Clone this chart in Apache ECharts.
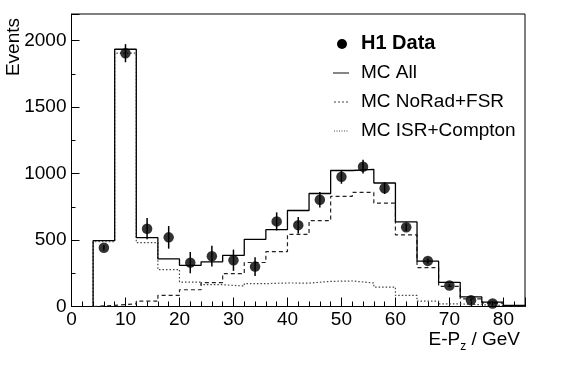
<!DOCTYPE html>
<html>
<head>
<meta charset="utf-8">
<script src="https://cdn.jsdelivr.net/npm/echarts@6/dist/echarts.min.js"></script>
<style>html,body{margin:0;padding:0;background:#fff;}#c{width:567px;height:369px;}</style>
</head>
<body>
<div id="c"></div>
<script>
// Bin edges (GeV) and bin contents
const binEdges = [4, 8, 12, 16, 20, 24, 28, 32, 36, 40, 44, 48, 52, 56, 60, 64, 68, 72, 76, 80, 84];
const mcAll        = [495, 1935, 518, 358, 310, 336, 385, 505, 578, 722, 850, 1023, 1032, 929, 636, 341, 182, 72, 33, 8];
const mcNoRadFSR   = [8, 20, 40, 83, 126, 179, 247, 331, 412, 543, 646, 828, 858, 778, 538, 293, 152, 58, 25, 5];
const mcISRCompton = [487, 1905, 480, 278, 184, 164, 154, 172, 177, 176, 189, 192, 177, 146, 83, 40, 20, 13, 8, 3];
// H1 data points
const dataX   = [6, 10, 14, 18, 22, 26, 30, 34, 38, 42, 46, 50, 54, 58, 62, 66, 70, 74, 78];
const h1Data  = [442, 1905, 585, 520, 330, 378, 348, 300, 640, 612, 803, 975, 1052, 890, 596, 343, 158, 47, 22];
const h1Err   = [20, 68, 80, 85, 80, 78, 80, 70, 68, 62, 58, 52, 52, 44, 28, 20, 12, 8, 5];
// Tick labels
const xTicks = [0, 10, 20, 30, 40, 50, 60, 70, 80];
const yTicks = [0, 500, 1000, 1500, 2000];

const FONT = '"Liberation Sans", Arial, Helvetica, sans-serif';

function stepData(vals) {
  const d = [[binEdges[0], 0]];
  vals.forEach((v, i) => d.push([binEdges[i], v]));
  d.push([binEdges[vals.length], vals[vals.length - 1]]);
  return d;
}

const chart = echarts.init(document.getElementById('c'), null, {renderer: 'canvas'});

const axisCommon = {
  splitLine: {show: false},
  axisLine: {show: true, lineStyle: {color: '#000', width: 1}},
};

const option = {
  animation: false,
  backgroundColor: '#fff',
  grid: {left: 71.5, right: 42, top: 14, bottom: 62.5, show: true, borderColor: '#000', borderWidth: 1, backgroundColor: 'transparent'},
  xAxis: [
    Object.assign({}, axisCommon, {
      type: 'value', min: 0, max: 84, interval: 10, position: 'bottom',
      axisTick: {inside: true, length: 9, lineStyle: {color: '#000'}},
      axisLabel: {formatter: v => xTicks.includes(v) ? String(v) : '', fontSize: 19, color: '#000', margin: 4, fontFamily: FONT}
    }),
    {
      type: 'value', min: 0, max: 84, interval: 2, position: 'bottom',
      splitLine: {show: false}, axisLine: {show: false},
      axisTick: {inside: true, length: 5, lineStyle: {color: '#000'}},
      axisLabel: {show: false}
    }
  ],
  yAxis: [
    Object.assign({}, axisCommon, {
      type: 'value', min: 0, max: 2200, interval: 500, position: 'left',
      axisTick: {inside: true, length: 8, lineStyle: {color: '#000'}},
      axisLabel: {formatter: v => yTicks.includes(v) ? String(v) : '', fontSize: 19, color: '#000', margin: 5, fontFamily: FONT}
    }),
    {
      type: 'value', min: 0, max: 2200, interval: 250, position: 'left',
      splitLine: {show: false}, axisLine: {show: false},
      axisTick: {inside: true, length: 4, lineStyle: {color: '#000'}},
      axisLabel: {show: false}
    }
  ],
  series: [
    {
      type: 'line', name: 'MC ISR+Compton', step: 'end', symbol: 'none', data: stepData(mcISRCompton),
      lineStyle: {color: '#444', width: 1.2, type: [1.5, 2]}, z: 2
    },
    {
      type: 'line', name: 'MC NoRad+FSR', step: 'end', symbol: 'none', data: stepData(mcNoRadFSR),
      lineStyle: {color: '#222', width: 1.2, type: [4, 3]}, z: 3
    },
    {
      type: 'line', name: 'MC All', step: 'end', symbol: 'none', data: stepData(mcAll),
      lineStyle: {color: '#000', width: 1.3}, z: 4
    },
    {
      type: 'custom', name: 'errors', z: 5,
      data: dataX.map((x, i) => [x, h1Data[i], h1Err[i]]),
      renderItem: function (params, api) {
        const x = api.value(0), y = api.value(1), e = api.value(2);
        const p1 = api.coord([x, y + e]);
        const p2 = api.coord([x, y - e]);
        return {type: 'line', shape: {x1: p1[0], y1: p1[1], x2: p2[0], y2: p2[1]}, style: {stroke: '#000', lineWidth: 1.5}};
      }
    },
    {
      type: 'scatter', name: 'H1 Data', symbol: 'circle', symbolSize: 10.5, z: 6,
      data: dataX.map((x, i) => [x, h1Data[i]]),
      itemStyle: {color: '#000'}
    }
  ],
  graphic: [
    {type: 'text', left: 4, top: 18, rotation: Math.PI / 2, style: {text: 'Events', fontSize: 19, fontFamily: FONT, fill: '#000'}},
    {type: 'text', right: 47, top: 330, style: {
      text: '{n|E-P}{s|z}{n| / GeV}',
      rich: {n: {fontSize: 19, fontFamily: FONT, fill: '#000'}, s: {fontSize: 12, fontFamily: FONT, fill: '#000', padding: [14, 0, 0, 0]}}
    }},
    // legend
    {type: 'circle', shape: {cx: 342, cy: 44, r: 5}, style: {fill: '#000'}},
    {type: 'text', left: 361, top: 33, style: {text: 'H1 Data', fontSize: 20, fontWeight: 'bold', fontFamily: FONT, fill: '#000'}},
    {type: 'line', shape: {x1: 333, y1: 73, x2: 349, y2: 73}, style: {stroke: '#444', lineWidth: 1.3}},
    {type: 'text', left: 361, top: 63, style: {text: 'MC All', fontSize: 19, fontFamily: FONT, fill: '#000'}},
    {type: 'line', shape: {x1: 334, y1: 102, x2: 349, y2: 102}, style: {stroke: '#444', lineWidth: 1, lineDash: [2, 2]}},
    {type: 'text', left: 361, top: 92, style: {text: 'MC NoRad+FSR', fontSize: 19, fontFamily: FONT, fill: '#000'}},
    {type: 'line', shape: {x1: 334, y1: 131, x2: 348, y2: 131}, style: {stroke: '#444', lineWidth: 1, lineDash: [1, 1.5]}},
    {type: 'text', left: 361, top: 121, style: {text: 'MC ISR+Compton', fontSize: 19, fontFamily: FONT, fill: '#000'}}
  ]
};
chart.setOption(option);
</script>
</body>
</html>
